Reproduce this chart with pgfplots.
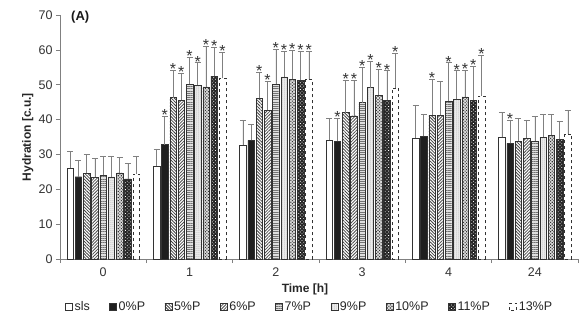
\documentclass[border=0pt]{standalone}
\usepackage{pgfplots}
\pgfplotsset{compat=1.18}
\usepackage{pgfplotstable}
\usetikzlibrary{patterns,patterns.meta}
\usepackage{fontspec}
\setmainfont{Liberation Sans}

% columns: x (group index), y (mean), e (upper error), s (1 = significant)
\pgfplotstableread{
x y e s
0 26.0 4.8 0
1 26.7 4.9 0
2 32.7 7.2 0
3 34.0 6.3 0
4 34.8 9.4 0
5 34.9 7.3 0
}\tSLS
\pgfplotstableread{
x y e s
0 23.6 4.8 0
1 32.8 8.1 1
2 34.0 4.7 0
3 33.8 6.5 1
4 35.2 6.3 0
5 33.2 6.7 1
}\tPzero
\pgfplotstableread{
x y e s
0 24.6 5.3 0
1 46.3 7.8 1
2 46.1 7.5 1
3 42.0 9.3 1
4 41.3 10.2 1
5 33.8 6.6 0
}\tPfive
\pgfplotstableread{
x y e s
0 23.4 5.5 0
1 45.6 7.8 1
2 42.7 8.3 1
3 41.1 10.2 1
4 41.3 9.7 0
5 34.6 5.3 0
}\tPsix
\pgfplotstableread{
x y e s
0 24.1 5.4 0
1 50.2 7.7 1
2 50.2 10.0 1
3 44.9 10.0 1
4 45.4 10.9 1
5 33.8 7.0 0
}\tPseven
\pgfplotstableread{
x y e s
0 23.6 5.9 0
1 49.9 6.4 1
2 52.3 7.2 1
3 49.2 7.6 1
4 45.8 8.2 1
5 35.0 6.5 0
}\tPnine
\pgfplotstableread{
x y e s
0 24.7 4.4 0
1 49.4 11.7 1
2 51.5 8.3 1
3 47.0 7.5 1
4 46.5 7.7 1
5 35.5 6.0 0
}\tPten
\pgfplotstableread{
x y e s
0 23.0 4.6 0
1 52.5 8.2 1
2 51.3 8.2 1
3 45.6 8.4 1
4 45.6 9.6 1
5 34.3 5.3 0
}\tPeleven
\pgfplotstableread{
x y e s
0 24.4 5.0 0
1 51.8 7.5 1
2 51.5 8.1 1
3 49.0 10.0 1
4 46.8 11.7 1
5 35.9 6.9 0
}\tPthirteen

\newcommand{\series}[3]{%
  \addplot[#3, bar shift=#2,
    error bars/.cd, y dir=plus, y explicit,
    error bar style={gray, solid, line width=0.6pt},
    error mark options={rotate=90, mark size=3pt, gray, solid, line width=0.6pt}]
    table[x=x, y=y, y error=e] {#1};
  \addplot[draw=none, fill=none, bar shift=#2, forget plot,
    nodes near coords={*},
    every node near coord/.append style={anchor=south, inner sep=0pt, yshift=-4.5pt,
      font=\fontsize{16}{16}\selectfont, text=black!80}]
    table[x=x, y expr={\thisrow{s}>0 ? \thisrow{y}+\thisrow{e} : nan}] {#1};
}

\begin{document}
\begin{tikzpicture}
\begin{axis}[
  scale only axis, width=518pt, height=244pt,
  ybar, bar width=0.075,
  xmin=-0.5, xmax=5.5, ymin=0, ymax=70,
  xtick={0,...,5}, xticklabels={0,1,2,3,4,24},
  minor xtick={-0.5,0.5,...,5.5},
  major x tick style={draw=none},
  minor x tick style={gray, line width=0.6pt},
  minor tick length=4pt,
  ytick={0,10,...,70},
  y tick style={gray, line width=0.6pt},
  major tick length=4pt,
  tick align=outside,
  axis x line*=bottom, axis y line*=left,
  axis line style={gray, line width=0.6pt, -},
  ticklabel style={font=\fontsize{12.5}{14}\selectfont, text=black!80},
  /pgf/number format/assume math mode=true,
  xticklabel style={yshift=-1pt},
  xlabel={\textbf{Time [h]}},
  xlabel style={font=\fontsize{12}{14}\selectfont, text=black!85, at={(axis description cs:0.5,0)}, anchor=north, yshift=-21pt, xshift=-14pt},
  ylabel={\textbf{Hydration [c.u.]}},
  ylabel style={font=\fontsize{12}{14}\selectfont, text=black!85, at={(axis description cs:-0.062,0.5)}, anchor=center},
  legend style={at={(0.482,-0.165)}, anchor=north, legend columns=9, draw=none,
    font=\fontsize{12.5}{14}\selectfont, text=black!85,
    /tikz/every even column/.append style={column sep=17.5pt},
    inner sep=0pt},
  legend image code/.code={\draw[#1, bar shift=0pt] (0pt,-3.5pt) rectangle (7pt,3.5pt);},
  legend cell align=left,
  clip=false,
]
\series{\tSLS}{-0.382}{draw=black!80, fill=white}
\series{\tPzero}{-0.2865}{draw=black!80, fill=black!88}
\series{\tPfive}{-0.191}{draw=black!80, fill=white, postaction={pattern={Lines[angle=-45, distance=2.2pt, line width=0.8pt]}, pattern color=black!75}}
\series{\tPsix}{-0.0955}{draw=black!80, fill=white, postaction={pattern={Lines[angle=45, distance=2.2pt, line width=0.8pt]}, pattern color=black!70}}
\series{\tPseven}{0}{draw=black!80, fill=gray!25, postaction={pattern={Lines[angle=0, distance=2.2pt, line width=0.9pt]}, pattern color=black!55}}
\series{\tPnine}{0.0955}{draw=black!80, fill=gray!8, postaction={pattern={Dots[distance=2pt, radius=0.5pt]}, pattern color=black!55}}
\series{\tPten}{0.191}{draw=black!80, fill=gray!30, postaction={pattern={Dots[distance=2.2pt, radius=0.75pt, angle=45]}, pattern color=black!80}}
\series{\tPeleven}{0.2865}{draw=black!80, fill=black!85, postaction={pattern={Dots[distance=2.4pt, radius=0.55pt, angle=45]}, pattern color=white}}
\series{\tPthirteen}{0.382}{draw=black!80, dashed, fill=white}
\legend{sls,0\%P,5\%P,6\%P,7\%P,9\%P,10\%P,11\%P,13\%P}
\node[anchor=center, font=\fontsize{13}{15}\selectfont\bfseries, text=black!90] at (rel axis cs:0.039,0.99) {(A)};
\coordinate (O) at (rel axis cs:0,0);
\end{axis}
\pgfresetboundingbox
\path ([shift={(-60pt,-63pt)}]O) rectangle ([shift={(525pt,259pt)}]O);
\end{tikzpicture}
\end{document}
